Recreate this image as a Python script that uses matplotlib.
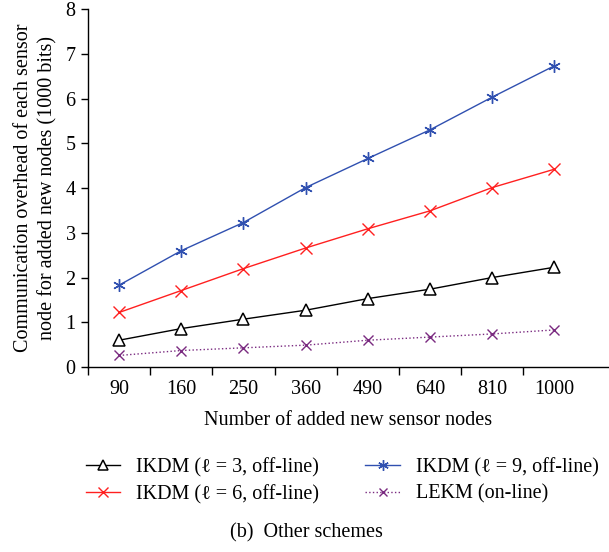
import matplotlib
matplotlib.use('Agg')
import matplotlib.pyplot as plt
import numpy as np

plt.rcParams['font.family'] = ['Liberation Serif', 'DejaVu Serif']

# Data
nodes = ['90', '160', '250', '360', '490', '640', '810', '1000']
ikdm_l3 = [0.60, 0.86, 1.07, 1.27, 1.53, 1.74, 2.00, 2.23]
ikdm_l6 = [1.22, 1.71, 2.20, 2.66, 3.09, 3.49, 4.01, 4.42]
ikdm_l9 = [1.83, 2.60, 3.23, 4.01, 4.66, 5.30, 6.03, 6.73]
lekm = [0.26, 0.37, 0.43, 0.49, 0.60, 0.67, 0.74, 0.83]

x = np.arange(len(nodes))

fig = plt.figure(figsize=(6.09, 5.52), dpi=100)
ax = fig.add_axes([0.1445, 0.335, 0.8555, 0.6487])

l1, = ax.plot(x, ikdm_l3, color='black', lw=1.0, marker='^', ms=8,
              mfc='white', mec='black', mew=1.1)
l2, = ax.plot(x, ikdm_l6, color='#ff2020', lw=1.0, marker='x', ms=8, mew=1.0)
l3, = ax.plot(x, ikdm_l9, color='#3050b0', lw=1.0, marker=(6, 2, 0), ms=9, mew=1.0)
l4, = ax.plot(x, lekm, color='#7a2a80', lw=1.0, ls=':', marker='x', ms=7, mew=1.0)

ax.set_xlim(-0.5, 7.88)
ax.set_ylim(0, 8)
ax.set_yticks(range(0, 9))
ax.set_xticks(x)
ax.set_xticklabels(nodes)
ax.set_xticks(np.arange(-0.5, 7.0, 1.0), minor=True)
ax.tick_params(axis='x', which='major', length=0, pad=9, labelsize=14.5)
ax.tick_params(axis='x', which='minor', length=6, width=1.0, direction='out')
ax.tick_params(axis='y', length=5, width=1.0, direction='out', labelsize=14.5, pad=4)

for s in ['top', 'right']:
    ax.spines[s].set_visible(False)
for s in ['left', 'bottom']:
    ax.spines[s].set_linewidth(1.0)

ax.set_xlabel('Number of added new sensor nodes', fontsize=14.5, labelpad=9)
ax.set_ylabel('Communication overhead of each sensor\nnode for added new nodes (1000 bits)',
              fontsize=14.5, labelpad=6, linespacing=1.35)

fig.legend([l1, l2, l3, l4],
           ['IKDM (\u2113 = 3, off-line)', 'IKDM (\u2113 = 6, off-line)',
            'IKDM (\u2113 = 9, off-line)', 'LEKM (on-line)'],
           ncol=2, loc='center', bbox_to_anchor=(0.562, 0.1285),
           frameon=False, fontsize=14.5, handlelength=1.7, columnspacing=2.3,
           handletextpad=0.8, labelspacing=0.35, markerscale=0.85)

fig.text(0.503, 0.034, '(b)  Other schemes', ha='center', va='center', fontsize=14.5)

fig.savefig('out.png', dpi=100)
